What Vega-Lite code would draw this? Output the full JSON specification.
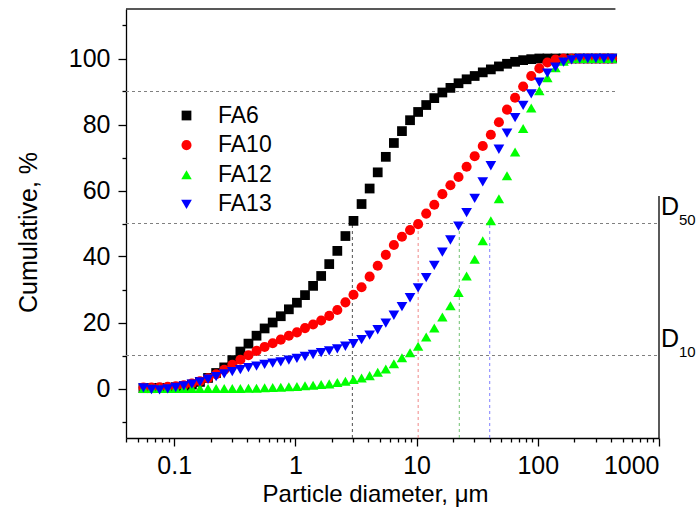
{
"$schema": "https://vega.github.io/schema/vega-lite/v6.json",
"width": 533, "height": 429,
"autosize": {"type": "none"},
"padding": {"left": 126, "top": 9, "right": 38, "bottom": 80},
"config": {"view": {"stroke": null}, "font": "Liberation Sans",
 "axis": {"grid": false, "domainColor": "#000", "tickColor": "#000", "labelColor": "#000", "titleColor": "#000", "labelFont": "Liberation Sans", "titleFont": "Liberation Sans", "titleFontWeight": "normal", "domainWidth": 1.3, "tickWidth": 1.3},
 "legend": {"labelFontSize": 23, "labelFont": "Liberation Sans", "labelColor": "#000", "labelOffset": 20, "rowPadding": 5.6, "padding": 0, "symbolStrokeWidth": 0}},
"datasets": {
"pts": [
{"s":"FA6","d":0.0557,"v":0.1},{"s":"FA6","d":0.0649,"v":0.1},{"s":"FA6","d":0.0757,"v":0.2},{"s":"FA6","d":0.0883,"v":0.2},{"s":"FA6","d":0.1029,"v":0.4},{"s":"FA6","d":0.12,"v":0.7},{"s":"FA6","d":0.1399,"v":1.2},{"s":"FA6","d":0.1631,"v":2.0},{"s":"FA6","d":0.1901,"v":3.2},{"s":"FA6","d":0.2217,"v":4.7},{"s":"FA6","d":0.2585,"v":6.4},{"s":"FA6","d":0.3014,"v":8.6},{"s":"FA6","d":0.3514,"v":11.2},{"s":"FA6","d":0.4097,"v":13.6},{"s":"FA6","d":0.4776,"v":16.0},{"s":"FA6","d":0.5569,"v":18.2},{"s":"FA6","d":0.6493,"v":20.0},{"s":"FA6","d":0.757,"v":21.9},{"s":"FA6","d":0.8826,"v":24.0},{"s":"FA6","d":1.029,"v":26.0},{"s":"FA6","d":1.2,"v":28.3},{"s":"FA6","d":1.399,"v":31.1},{"s":"FA6","d":1.631,"v":34.1},{"s":"FA6","d":1.901,"v":37.7},{"s":"FA6","d":2.217,"v":41.7},{"s":"FA6","d":2.585,"v":46.2},{"s":"FA6","d":3.014,"v":50.8},{"s":"FA6","d":3.514,"v":55.9},{"s":"FA6","d":4.097,"v":60.6},{"s":"FA6","d":4.776,"v":65.5},{"s":"FA6","d":5.569,"v":70.2},{"s":"FA6","d":6.493,"v":74.4},{"s":"FA6","d":7.57,"v":78.0},{"s":"FA6","d":8.826,"v":81.3},{"s":"FA6","d":10.29,"v":83.8},{"s":"FA6","d":12.0,"v":85.9},{"s":"FA6","d":13.99,"v":88.0},{"s":"FA6","d":16.31,"v":89.7},{"s":"FA6","d":19.01,"v":91.1},{"s":"FA6","d":22.17,"v":92.5},{"s":"FA6","d":25.85,"v":93.7},{"s":"FA6","d":30.14,"v":94.7},{"s":"FA6","d":35.14,"v":95.8},{"s":"FA6","d":40.97,"v":96.7},{"s":"FA6","d":47.76,"v":97.6},{"s":"FA6","d":55.69,"v":98.4},{"s":"FA6","d":64.93,"v":99.0},{"s":"FA6","d":75.7,"v":99.5},{"s":"FA6","d":88.26,"v":99.8},{"s":"FA6","d":102.9,"v":100},{"s":"FA6","d":120.0,"v":100},{"s":"FA6","d":139.9,"v":100},{"s":"FA6","d":163.1,"v":100},{"s":"FA6","d":190.1,"v":100},{"s":"FA6","d":221.7,"v":100},{"s":"FA6","d":258.5,"v":100},{"s":"FA6","d":301.4,"v":100},{"s":"FA6","d":351.4,"v":100},{"s":"FA6","d":409.7,"v":100},
{"s":"FA10","d":0.0557,"v":0.3},{"s":"FA10","d":0.0649,"v":0.3},{"s":"FA10","d":0.0757,"v":0.4},{"s":"FA10","d":0.0883,"v":0.5},{"s":"FA10","d":0.1029,"v":0.7},{"s":"FA10","d":0.12,"v":1.0},{"s":"FA10","d":0.1399,"v":1.5},{"s":"FA10","d":0.1631,"v":2.2},{"s":"FA10","d":0.1901,"v":3.1},{"s":"FA10","d":0.2217,"v":4.3},{"s":"FA10","d":0.2585,"v":5.7},{"s":"FA10","d":0.3014,"v":7.2},{"s":"FA10","d":0.3514,"v":8.7},{"s":"FA10","d":0.4097,"v":10.1},{"s":"FA10","d":0.4776,"v":11.4},{"s":"FA10","d":0.5569,"v":12.6},{"s":"FA10","d":0.6493,"v":13.7},{"s":"FA10","d":0.757,"v":14.8},{"s":"FA10","d":0.8826,"v":16.0},{"s":"FA10","d":1.029,"v":17.0},{"s":"FA10","d":1.2,"v":18.3},{"s":"FA10","d":1.399,"v":19.4},{"s":"FA10","d":1.631,"v":20.6},{"s":"FA10","d":1.901,"v":22.0},{"s":"FA10","d":2.217,"v":23.8},{"s":"FA10","d":2.585,"v":26.1},{"s":"FA10","d":3.014,"v":28.4},{"s":"FA10","d":3.514,"v":30.7},{"s":"FA10","d":4.097,"v":33.9},{"s":"FA10","d":4.776,"v":37.2},{"s":"FA10","d":5.569,"v":40.5},{"s":"FA10","d":6.493,"v":43.5},{"s":"FA10","d":7.57,"v":46.0},{"s":"FA10","d":8.826,"v":48.0},{"s":"FA10","d":10.29,"v":49.8},{"s":"FA10","d":12.0,"v":53.0},{"s":"FA10","d":13.99,"v":55.7},{"s":"FA10","d":16.31,"v":58.9},{"s":"FA10","d":19.01,"v":61.6},{"s":"FA10","d":22.17,"v":64.1},{"s":"FA10","d":25.85,"v":67.2},{"s":"FA10","d":30.14,"v":70.4},{"s":"FA10","d":35.14,"v":73.5},{"s":"FA10","d":40.97,"v":76.9},{"s":"FA10","d":47.76,"v":80.7},{"s":"FA10","d":55.69,"v":84.5},{"s":"FA10","d":64.93,"v":88.1},{"s":"FA10","d":75.7,"v":91.5},{"s":"FA10","d":88.26,"v":94.7},{"s":"FA10","d":102.9,"v":97.0},{"s":"FA10","d":120.0,"v":98.8},{"s":"FA10","d":139.9,"v":99.7},{"s":"FA10","d":163.1,"v":100},{"s":"FA10","d":190.1,"v":100},{"s":"FA10","d":221.7,"v":100},{"s":"FA10","d":258.5,"v":100},{"s":"FA10","d":301.4,"v":100},{"s":"FA10","d":351.4,"v":100},{"s":"FA10","d":409.7,"v":100},
{"s":"FA12","d":0.0557,"v":0},{"s":"FA12","d":0.0649,"v":0},{"s":"FA12","d":0.0757,"v":0},{"s":"FA12","d":0.0883,"v":0},{"s":"FA12","d":0.1029,"v":0},{"s":"FA12","d":0.12,"v":0},{"s":"FA12","d":0.1399,"v":0},{"s":"FA12","d":0.1631,"v":0},{"s":"FA12","d":0.1901,"v":0},{"s":"FA12","d":0.2217,"v":0},{"s":"FA12","d":0.2585,"v":0},{"s":"FA12","d":0.3014,"v":0},{"s":"FA12","d":0.3514,"v":0},{"s":"FA12","d":0.4097,"v":0.1},{"s":"FA12","d":0.4776,"v":0.1},{"s":"FA12","d":0.5569,"v":0.2},{"s":"FA12","d":0.6493,"v":0.3},{"s":"FA12","d":0.757,"v":0.4},{"s":"FA12","d":0.8826,"v":0.5},{"s":"FA12","d":1.029,"v":0.6},{"s":"FA12","d":1.2,"v":0.8},{"s":"FA12","d":1.399,"v":1.0},{"s":"FA12","d":1.631,"v":1.2},{"s":"FA12","d":1.901,"v":1.4},{"s":"FA12","d":2.217,"v":1.8},{"s":"FA12","d":2.585,"v":2.2},{"s":"FA12","d":3.014,"v":2.7},{"s":"FA12","d":3.514,"v":3.2},{"s":"FA12","d":4.097,"v":3.9},{"s":"FA12","d":4.776,"v":4.9},{"s":"FA12","d":5.569,"v":5.9},{"s":"FA12","d":6.493,"v":7.5},{"s":"FA12","d":7.57,"v":9.3},{"s":"FA12","d":8.826,"v":10.8},{"s":"FA12","d":10.29,"v":12.8},{"s":"FA12","d":12.0,"v":15.6},{"s":"FA12","d":13.99,"v":18.3},{"s":"FA12","d":16.31,"v":21.7},{"s":"FA12","d":19.01,"v":25.1},{"s":"FA12","d":22.17,"v":29.1},{"s":"FA12","d":25.85,"v":34.1},{"s":"FA12","d":30.14,"v":39.2},{"s":"FA12","d":35.14,"v":44.8},{"s":"FA12","d":40.97,"v":50.8},{"s":"FA12","d":47.76,"v":57.5},{"s":"FA12","d":55.69,"v":64.5},{"s":"FA12","d":64.93,"v":71.7},{"s":"FA12","d":75.7,"v":78.8},{"s":"FA12","d":88.26,"v":85.0},{"s":"FA12","d":102.9,"v":90.2},{"s":"FA12","d":120.0,"v":94.2},{"s":"FA12","d":139.9,"v":97.2},{"s":"FA12","d":163.1,"v":99.2},{"s":"FA12","d":190.1,"v":100},{"s":"FA12","d":221.7,"v":100},{"s":"FA12","d":258.5,"v":100},{"s":"FA12","d":301.4,"v":100},{"s":"FA12","d":351.4,"v":100},{"s":"FA12","d":409.7,"v":100},
{"s":"FA13","d":0.0557,"v":0.2},{"s":"FA13","d":0.0649,"v":-0.3},{"s":"FA13","d":0.0757,"v":-0.4},{"s":"FA13","d":0.0883,"v":-0.1},{"s":"FA13","d":0.1029,"v":0.3},{"s":"FA13","d":0.12,"v":0.8},{"s":"FA13","d":0.1399,"v":1.3},{"s":"FA13","d":0.1631,"v":2.0},{"s":"FA13","d":0.1901,"v":2.8},{"s":"FA13","d":0.2217,"v":3.6},{"s":"FA13","d":0.2585,"v":4.4},{"s":"FA13","d":0.3014,"v":5.1},{"s":"FA13","d":0.3514,"v":5.7},{"s":"FA13","d":0.4097,"v":6.3},{"s":"FA13","d":0.4776,"v":6.8},{"s":"FA13","d":0.5569,"v":7.3},{"s":"FA13","d":0.6493,"v":7.7},{"s":"FA13","d":0.757,"v":8.1},{"s":"FA13","d":0.8826,"v":8.6},{"s":"FA13","d":1.029,"v":9.1},{"s":"FA13","d":1.2,"v":9.7},{"s":"FA13","d":1.399,"v":10.3},{"s":"FA13","d":1.631,"v":10.9},{"s":"FA13","d":1.901,"v":11.4},{"s":"FA13","d":2.217,"v":12.0},{"s":"FA13","d":2.585,"v":12.8},{"s":"FA13","d":3.014,"v":13.6},{"s":"FA13","d":3.514,"v":14.8},{"s":"FA13","d":4.097,"v":16.2},{"s":"FA13","d":4.776,"v":17.8},{"s":"FA13","d":5.569,"v":19.8},{"s":"FA13","d":6.493,"v":22.2},{"s":"FA13","d":7.57,"v":24.8},{"s":"FA13","d":8.826,"v":27.5},{"s":"FA13","d":10.29,"v":30.5},{"s":"FA13","d":12.0,"v":33.6},{"s":"FA13","d":13.99,"v":37.3},{"s":"FA13","d":16.31,"v":41.3},{"s":"FA13","d":19.01,"v":45.0},{"s":"FA13","d":22.17,"v":49.2},{"s":"FA13","d":25.85,"v":53.3},{"s":"FA13","d":30.14,"v":57.6},{"s":"FA13","d":35.14,"v":62.6},{"s":"FA13","d":40.97,"v":67.5},{"s":"FA13","d":47.76,"v":72.5},{"s":"FA13","d":55.69,"v":77.4},{"s":"FA13","d":64.93,"v":82.1},{"s":"FA13","d":75.7,"v":85.8},{"s":"FA13","d":88.26,"v":89.3},{"s":"FA13","d":102.9,"v":92.8},{"s":"FA13","d":120.0,"v":95.6},{"s":"FA13","d":139.9,"v":97.4},{"s":"FA13","d":163.1,"v":98.9},{"s":"FA13","d":190.1,"v":99.6},{"s":"FA13","d":221.7,"v":100},{"s":"FA13","d":258.5,"v":100},{"s":"FA13","d":301.4,"v":100},{"s":"FA13","d":351.4,"v":100},{"s":"FA13","d":409.7,"v":100}
],
"hl": [{"y": 90, "x1": 0.04, "x2": 437}, {"y": 50, "x1": 0.04, "x2": 1000}, {"y": 10, "x1": 0.04, "x2": 1000}],
"d50": [{"k": "FA6", "d": 2.95}, {"k": "FA10", "d": 10.3}, {"k": "FA12", "d": 40.1}, {"k": "FA13", "d": 22.5}],
"dbig": [{"t": "D", "v": 50}, {"t": "D", "v": 10}],
"dsub": [{"t": "50", "v": 50}, {"t": "10", "v": 10}]
},
"layer": [
{"data": {"name": "hl"}, "mark": {"type": "rule", "color": "#808080", "strokeDash": [3, 3], "strokeWidth": 1},
 "encoding": {
  "x": {"field": "x1", "type": "quantitative", "scale": {"type": "log", "domain": [0.04, 1000], "nice": false},
   "axis": {"orient": "bottom", "values": [0.04,0.05,0.06,0.07,0.08,0.09,0.2,0.3,0.4,0.5,0.6,0.7,0.8,0.9,2,3,4,5,6,7,8,9,20,30,40,50,60,70,80,90,200,300,400,500,600,700,800,900], "labels": false, "tickSize": 4, "domain": false, "title": null}},
  "x2": {"field": "x2"},
  "y": {"field": "y", "type": "quantitative", "scale": {"domain": [-15, 115], "nice": false, "zero": false},
   "axis": {"orient": "left", "values": [-10, 10, 30, 50, 70, 90, 110], "labels": false, "tickSize": 4, "domain": false, "title": null}}
 }},
{"data": {"name": "d50"}, "transform": [{"filter": "datum.k == 'FA6'"}], "mark": {"type": "rule", "color": "#505050", "strokeDash": [3, 3], "strokeWidth": 1},
 "encoding": {"x": {"field": "d", "type": "quantitative", "axis": null}, "y": {"datum": -15, "type": "quantitative", "axis": null}, "y2": {"datum": 50}}},
{"data": {"name": "d50"}, "transform": [{"filter": "datum.k == 'FA10'"}], "mark": {"type": "rule", "color": "#f08888", "strokeDash": [3, 3], "strokeWidth": 1},
 "encoding": {"x": {"field": "d", "type": "quantitative", "axis": null}, "y": {"datum": -15, "type": "quantitative", "axis": null}, "y2": {"datum": 50}}},
{"data": {"name": "d50"}, "transform": [{"filter": "datum.k == 'FA12'"}], "mark": {"type": "rule", "color": "#8080ff", "strokeDash": [3, 3], "strokeWidth": 1},
 "encoding": {"x": {"field": "d", "type": "quantitative", "axis": null}, "y": {"datum": -15, "type": "quantitative", "axis": null}, "y2": {"datum": 50}}},
{"data": {"name": "d50"}, "transform": [{"filter": "datum.k == 'FA13'"}], "mark": {"type": "rule", "color": "#70c070", "strokeDash": [3, 3], "strokeWidth": 1},
 "encoding": {"x": {"field": "d", "type": "quantitative", "axis": null}, "y": {"datum": -15, "type": "quantitative", "axis": null}, "y2": {"datum": 50}}},
{"data": {"values": [{}]}, "mark": {"type": "rule", "color": "#202020", "strokeWidth": 1.3},
 "encoding": {"x": {"datum": 0.04, "type": "quantitative", "axis": null}, "x2": {"datum": 437}, "y": {"datum": 115, "type": "quantitative", "axis": null}}},
{"data": {"values": [{}]}, "mark": {"type": "rule", "color": "#000000", "strokeWidth": 1.3},
 "encoding": {"x": {"datum": 1000, "type": "quantitative", "axis": null}, "y": {"datum": -15, "type": "quantitative", "axis": null}, "y2": {"datum": 58.3}}},
{"data": {"name": "pts"}, "mark": {"type": "point", "filled": true, "opacity": 1, "strokeWidth": 0},
 "encoding": {
  "x": {"field": "d", "type": "quantitative",
   "axis": {"orient": "bottom", "values": [0.1, 1, 10, 100, 1000], "format": "~g", "tickSize": 8, "labelFontSize": 25, "labelPadding": 7, "title": "Particle diameter, μm", "titleFontSize": 24, "titleX": 249, "titleY": 63, "titleAlign": "center", "titleBaseline": "alphabetic"}},
  "y": {"field": "v", "type": "quantitative",
   "axis": {"orient": "left", "values": [0, 20, 40, 60, 80, 100], "tickSize": 8, "labelFontSize": 25, "labelPadding": 8, "title": "Cumulative, %", "titleFontSize": 25, "titleAngle": -90, "titleX": -90, "titleY": 223, "titleAlign": "center", "titleBaseline": "alphabetic"}},
  "color": {"field": "s", "type": "nominal", "scale": {"domain": ["FA6", "FA10", "FA12", "FA13"], "range": ["#000000", "#ff0000", "#00ff00", "#0000ff"]},
   "legend": {"title": null, "orient": "none", "legendX": 49, "legendY": 95}},
  "shape": {"field": "s", "type": "nominal", "scale": {"domain": ["FA6", "FA10", "FA12", "FA13"], "range": ["square", "circle", "triangle-up", "triangle-down"]},
   "legend": {"title": null, "orient": "none", "legendX": 49, "legendY": 95}},
  "size": {"field": "s", "type": "nominal", "scale": {"domain": ["FA6", "FA10", "FA12", "FA13"], "range": [95, 115, 135, 135]},
   "legend": {"title": null, "orient": "none", "legendX": 49, "legendY": 95}}
 }},
{"data": {"name": "dbig"}, "mark": {"type": "text", "fontSize": 25, "align": "left", "baseline": "alphabetic", "dx": 2, "dy": -8.5, "color": "#000"},
 "encoding": {"x": {"datum": 1000, "type": "quantitative", "axis": null}, "y": {"field": "v", "type": "quantitative", "axis": null}, "text": {"field": "t"}}},
{"data": {"name": "dsub"}, "mark": {"type": "text", "fontSize": 15, "align": "left", "baseline": "alphabetic", "dx": 20, "dy": 1.5, "color": "#000"},
 "encoding": {"x": {"datum": 1000, "type": "quantitative", "axis": null}, "y": {"field": "v", "type": "quantitative", "axis": null}, "text": {"field": "t"}}}
],
"resolve": {"axis": {"x": "independent", "y": "independent"}}
}
